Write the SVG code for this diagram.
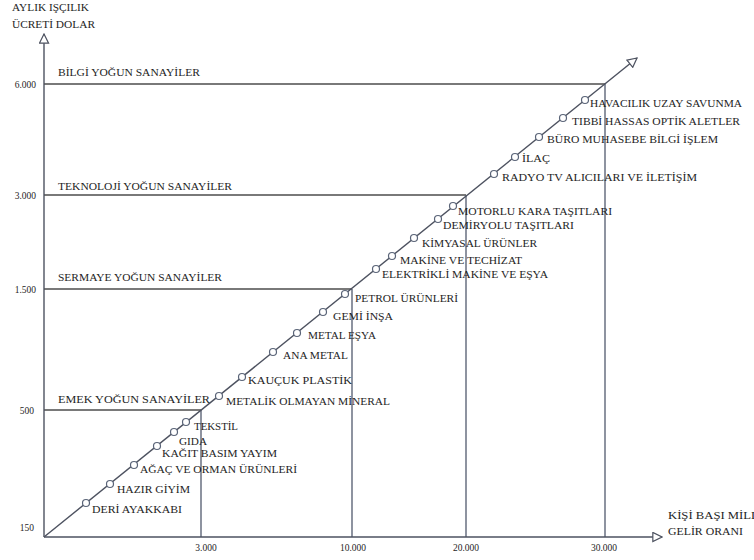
<svg xmlns="http://www.w3.org/2000/svg" width="754" height="560" viewBox="0 0 754 560">
<style>
text{font-family:'Liberation Serif','DejaVu Serif',serif;fill:#1e1e1e;font-size:10px}
.hd{font-size:10.5px}
.num{font-size:9.5px}
.grid{stroke:#4d4d4d;stroke-width:1.4;fill:none}
.vert{stroke:#5d6578;stroke-width:1.4;fill:none}
.axis{stroke:#4d5260;stroke-width:1.4;fill:none}
.pt{fill:#fff;stroke:#5a6478;stroke-width:1.2}
</style>
<defs>
<marker id="arr" viewBox="0 0 12 12" refX="11" refY="6" markerWidth="11" markerHeight="11" markerUnits="userSpaceOnUse" orient="auto">
<path d="M1,1 L11,6 L1,11 Z" fill="#fff" stroke="#4d5260" stroke-width="1.3"/>
</marker>
</defs>
<g id="connectors">
<line class="grid" x1="44" y1="84" x2="605" y2="84"/>
<line class="grid" x1="44" y1="195" x2="466" y2="195"/>
<line class="grid" x1="44" y1="289" x2="352" y2="289"/>
<line class="grid" x1="44" y1="410" x2="201" y2="410"/>
<line class="vert" x1="201" y1="410" x2="201" y2="537"/>
<line class="vert" x1="352" y1="289" x2="352" y2="537"/>
<line class="vert" x1="466" y1="195" x2="466" y2="537"/>
<line class="vert" x1="605" y1="84" x2="605" y2="537"/>
<line class="axis" x1="44" y1="537" x2="44" y2="34" marker-end="url(#arr)"/>
<line class="axis" x1="44" y1="537" x2="662" y2="537" marker-end="url(#arr)"/>
<line class="axis" x1="44" y1="537" x2="637" y2="58" marker-end="url(#arr)"/>
</g>
<g id="axis-labels">
<text x="12" y="11" textLength="77" lengthAdjust="spacingAndGlyphs">AYLIK IŞÇILIK</text>
<text x="12" y="28" textLength="83" lengthAdjust="spacingAndGlyphs">ÜCRETİ DOLAR</text>
<text x="668" y="519" textLength="95" lengthAdjust="spacingAndGlyphs">KİŞİ BAŞI MİLLİ</text>
<text x="668" y="535" textLength="75" lengthAdjust="spacingAndGlyphs">GELİR ORANI</text>
<text class="num" x="36" y="88" text-anchor="end">6.000</text>
<text class="num" x="36" y="199" text-anchor="end">3.000</text>
<text class="num" x="36" y="293" text-anchor="end">1.500</text>
<text class="num" x="34" y="414" text-anchor="end">500</text>
<text class="num" x="34" y="531" text-anchor="end">150</text>
<text class="num" x="206" y="551" text-anchor="middle">3.000</text>
<text class="num" x="353" y="551" text-anchor="middle">10.000</text>
<text class="num" x="466" y="551" text-anchor="middle">20.000</text>
<text class="num" x="604" y="551" text-anchor="middle">30.000</text>
</g>
<g id="sector-labels">
<text class="hd" x="58" y="76" textLength="142" lengthAdjust="spacingAndGlyphs">BİLGİ YOĞUN SANAYİLER</text>
<text class="hd" x="58" y="190" textLength="174" lengthAdjust="spacingAndGlyphs">TEKNOLOJİ YOĞUN SANAYİLER</text>
<text class="hd" x="58" y="281" textLength="164" lengthAdjust="spacingAndGlyphs">SERMAYE YOĞUN SANAYİLER</text>
<text class="hd" x="58" y="403" textLength="152" lengthAdjust="spacingAndGlyphs">EMEK YOĞUN SANAYİLER</text>
</g>
<g id="n-deri"><circle class="pt" cx="86" cy="503" r="3.5"/><text x="92" y="513" textLength="90" lengthAdjust="spacingAndGlyphs">DERİ AYAKKABI</text></g>
<g id="n-hazir"><circle class="pt" cx="110" cy="484" r="3.5"/><text x="117" y="493" textLength="73" lengthAdjust="spacingAndGlyphs">HAZIR GİYİM</text></g>
<g id="n-agac"><circle class="pt" cx="134" cy="465" r="3.5"/><text x="140" y="473" textLength="157" lengthAdjust="spacingAndGlyphs">AĞAÇ VE ORMAN ÜRÜNLERİ</text></g>
<g id="n-kagit"><circle class="pt" cx="157" cy="446" r="3.5"/><text x="162" y="457" textLength="115" lengthAdjust="spacingAndGlyphs">KAĞIT BASIM YAYIM</text></g>
<g id="n-gida"><circle class="pt" cx="174" cy="432" r="3.5"/><text x="179" y="445" textLength="28" lengthAdjust="spacingAndGlyphs">GIDA</text></g>
<g id="n-tekstil"><circle class="pt" cx="186" cy="422" r="3.5"/><text x="194" y="430" textLength="44" lengthAdjust="spacingAndGlyphs">TEKSTİL</text></g>
<g id="n-metalik"><circle class="pt" cx="219" cy="396" r="3.5"/><text x="226" y="405" textLength="164" lengthAdjust="spacingAndGlyphs">METALİK OLMAYAN MİNERAL</text></g>
<g id="n-kaucuk"><circle class="pt" cx="242" cy="377" r="3.5"/><text x="248" y="384" textLength="104" lengthAdjust="spacingAndGlyphs">KAUÇUK PLASTİK</text></g>
<g id="n-anametal"><circle class="pt" cx="273" cy="352" r="3.5"/><text x="283" y="359" textLength="65" lengthAdjust="spacingAndGlyphs">ANA METAL</text></g>
<g id="n-metalesya"><circle class="pt" cx="297" cy="333" r="3.5"/><text x="308" y="339" textLength="68" lengthAdjust="spacingAndGlyphs">METAL EŞYA</text></g>
<g id="n-gemi"><circle class="pt" cx="323" cy="312" r="3.5"/><text x="333" y="320" textLength="60" lengthAdjust="spacingAndGlyphs">GEMİ İNŞA</text></g>
<g id="n-petrol"><circle class="pt" cx="345" cy="294" r="3.5"/><text x="355" y="302" textLength="103" lengthAdjust="spacingAndGlyphs">PETROL ÜRÜNLERİ</text></g>
<g id="n-elektrikli"><circle class="pt" cx="376" cy="269" r="3.5"/><text x="382" y="278" textLength="166" lengthAdjust="spacingAndGlyphs">ELEKTRİKLİ MAKİNE VE EŞYA</text></g>
<g id="n-makine"><circle class="pt" cx="392" cy="256" r="3.5"/><text x="400" y="264" textLength="122" lengthAdjust="spacingAndGlyphs">MAKİNE VE TECHİZAT</text></g>
<g id="n-kimyasal"><circle class="pt" cx="414" cy="238" r="3.5"/><text x="422" y="247" textLength="115" lengthAdjust="spacingAndGlyphs">KİMYASAL ÜRÜNLER</text></g>
<g id="n-demiryolu"><circle class="pt" cx="438" cy="219" r="3.5"/><text x="443" y="229" textLength="131" lengthAdjust="spacingAndGlyphs">DEMİRYOLU TAŞITLARI</text></g>
<g id="n-motorlu"><circle class="pt" cx="453" cy="206" r="3.5"/><text x="458" y="215" textLength="154" lengthAdjust="spacingAndGlyphs">MOTORLU KARA TAŞITLARI</text></g>
<g id="n-radyo"><circle class="pt" cx="494" cy="174" r="3.5"/><text x="502" y="181" textLength="195" lengthAdjust="spacingAndGlyphs">RADYO TV ALICILARI VE İLETİŞİM</text></g>
<g id="n-ilac"><circle class="pt" cx="515" cy="157" r="3.5"/><text x="522" y="162" textLength="28" lengthAdjust="spacingAndGlyphs">İLAÇ</text></g>
<g id="n-buro"><circle class="pt" cx="539" cy="137" r="3.5"/><text x="547" y="143" textLength="171" lengthAdjust="spacingAndGlyphs">BÜRO MUHASEBE BİLGİ İŞLEM</text></g>
<g id="n-tibbi"><circle class="pt" cx="563" cy="118" r="3.5"/><text x="572" y="125" textLength="168" lengthAdjust="spacingAndGlyphs">TIBBİ HASSAS OPTİK ALETLER</text></g>
<g id="n-havacilik"><circle class="pt" cx="585" cy="100" r="3.5"/><text x="590" y="107" textLength="152" lengthAdjust="spacingAndGlyphs">HAVACILIK UZAY SAVUNMA</text></g>
</svg>
